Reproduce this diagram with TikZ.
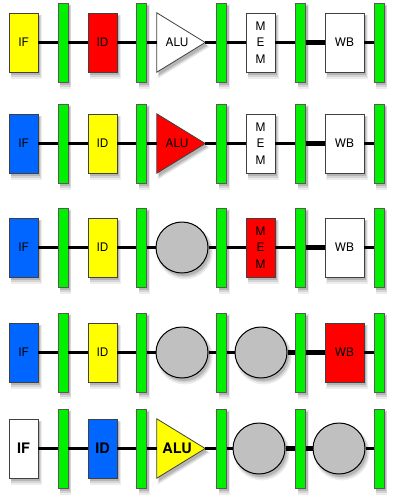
\documentclass[tikz,border=0pt]{standalone}
\usepackage{fontspec}
\setmainfont{TeX Gyre Heros}
\usetikzlibrary{shapes.geometric,shadows}
\definecolor{pblue}{RGB}{0,102,255}
\definecolor{pgreen}{RGB}{0,240,0}
\definecolor{pgrey}{RGB}{192,192,192}
\definecolor{pyellow}{RGB}{255,255,0}
\definecolor{pred}{RGB}{255,0,0}
\begin{document}
\begin{tikzpicture}[x=1pt,y=-1pt,
  softshadow/.style={
    general shadow={shadow xshift=2.5pt,shadow yshift=-4pt,shadow scale=1.08,fill=black,opacity=.07},
    general shadow={shadow xshift=2.5pt,shadow yshift=-3.5pt,shadow scale=1.04,fill=black,opacity=.10},
    general shadow={shadow xshift=2pt,shadow yshift=-3pt,fill=black,opacity=.15}},
  txt/.style={font=\fontsize{11.8}{16.5}\selectfont, align=center},
  bigtxt/.style={font=\bfseries\fontsize{14.5}{16}\selectfont, align=center},
  stage/.style={draw=black!75, line width=0.8pt, minimum width=29, minimum height=59, inner sep=0pt, softshadow, txt},
  wbstage/.style={stage, minimum width=39},
  pbar/.style={draw=black!65, line width=0.8pt, fill=pgreen, minimum width=10, minimum height=79, inner sep=0pt, softshadow},
  bubble/.style={ellipse, draw=black, line width=1pt, fill=pgrey, minimum width=52, minimum height=51, inner sep=0pt, softshadow},
  alubox/.style={minimum width=48, minimum height=59, inner sep=0pt},
  tri/.style={draw=black!75, line width=0.8pt, line join=miter, softshadow},
  wire/.style={line width=3pt, black},
  thickwire/.style={line width=4.5pt, black}]
\useasboundingbox (0,0) rectangle (405,504);

% pipeline registers
\foreach \r/\y in {1/42.5,2/143.5,3/247.5,4/352.5,5/448.5}{
  \foreach \i/\x in {1/63,2/141.5,3/221.5,4/300.5,5/379}{
    \node[pbar] (b\i-\r) at (\x,\y) {};
  }
}

% ---------- row 1 ----------
\node[stage, fill=pyellow] (if1) at (23.5,42.5) {IF};
\node[stage, fill=pred] (id1) at (102.5,42.5) {ID};
\node[alubox] (alu1) at (181,42.5) {};
\filldraw[tri, fill=white] (alu1.north west) -- (alu1.east) -- (alu1.south west) -- cycle;
\node[txt] (alu1t) at ([xshift=-4pt]alu1.center) {ALU};
\node[stage, fill=white] (mem1) at (260.5,42.5) {M\\E\\M};
\node[wbstage, fill=white] (wb1) at (344.5,42.5) {WB};
\draw[wire] (if1) -- (b1-1);
\draw[wire] (b1-1) -- (id1);
\draw[wire] (id1) -- (b2-1);
\draw[wire] (b2-1) -- (alu1);
\draw[wire] (alu1) -- (b3-1);
\draw[wire] (b3-1) -- (mem1);
\draw[wire] (mem1) -- (b4-1);
\draw[thickwire] (b4-1) -- (wb1);
\draw[wire] (wb1) -- (b5-1);

% ---------- row 2 ----------
\node[stage, fill=pblue] (if2) at (23.5,143.5) {IF};
\node[stage, fill=pyellow] (id2) at (102.5,143.5) {ID};
\node[alubox] (alu2) at (181,143.5) {};
\filldraw[tri, fill=pred] (alu2.north west) -- (alu2.east) -- (alu2.south west) -- cycle;
\node[txt] (alu2t) at ([xshift=-4pt]alu2.center) {ALU};
\node[stage, fill=white] (mem2) at (260.5,143.5) {M\\E\\M};
\node[wbstage, fill=white] (wb2) at (344.5,143.5) {WB};
\draw[wire] (if2) -- (b1-2);
\draw[wire] (b1-2) -- (id2);
\draw[wire] (id2) -- (b2-2);
\draw[wire] (b2-2) -- (alu2);
\draw[wire] (alu2) -- (b3-2);
\draw[wire] (b3-2) -- (mem2);
\draw[wire] (mem2) -- (b4-2);
\draw[thickwire] (b4-2) -- (wb2);
\draw[wire] (wb2) -- (b5-2);

% ---------- row 3 ----------
\node[stage, fill=pblue] (if3) at (23.5,247.5) {IF};
\node[stage, fill=pyellow] (id3) at (102.5,247.5) {ID};
\node[bubble] (c1-3) at (182,247.5) {};
\node[stage, fill=pred] (mem3) at (260.5,247.5) {M\\E\\M};
\node[wbstage, fill=white] (wb3) at (344.5,247.5) {WB};
\draw[wire] (if3) -- (b1-3);
\draw[wire] (b1-3) -- (id3);
\draw[wire] (id3) -- (b2-3);
\draw[wire] (b2-3) -- (c1-3);
\draw[wire] (c1-3) -- (b3-3);
\draw[wire] (b3-3) -- (mem3);
\draw[wire] (mem3) -- (b4-3);
\draw[thickwire] (b4-3) -- (wb3);
\draw[wire] (wb3) -- (b5-3);

% ---------- row 4 ----------
\node[stage, fill=pblue] (if4) at (23.5,352.5) {IF};
\node[stage, fill=pyellow] (id4) at (102.5,352.5) {ID};
\node[bubble] (c1-4) at (182,352.5) {};
\node[bubble] (c2-4) at (261,352.5) {};
\node[wbstage, fill=pred] (wb4) at (344.5,352.5) {WB};
\draw[wire] (if4) -- (b1-4);
\draw[wire] (b1-4) -- (id4);
\draw[wire] (id4) -- (b2-4);
\draw[wire] (b2-4) -- (c1-4);
\draw[wire] (c1-4) -- (b3-4);
\draw[wire] (b3-4) -- (c2-4);
\draw[thickwire] (c2-4) -- (b4-4);
\draw[thickwire] (b4-4) -- (wb4);
\draw[wire] (wb4) -- (b5-4);

% ---------- row 5 ----------
\node[stage, fill=white, bigtxt] (if5) at (23.5,448.5) {IF};
\node[stage, fill=pblue, bigtxt] (id5) at (102.5,448.5) {ID};
\node[alubox] (alu5) at (181,448.5) {};
\filldraw[tri, fill=pyellow] (alu5.north west) -- (alu5.east) -- (alu5.south west) -- cycle;
\node[bigtxt] (alu5t) at ([xshift=-4pt]alu5.center) {ALU};
\node[bubble] (c1-5) at (259,448.5) {};
\node[bubble] (c2-5) at (339,448.5) {};
\draw[wire] (if5) -- (b1-5);
\draw[wire] (b1-5) -- (id5);
\draw[wire] (id5) -- (b2-5);
\draw[wire] (b2-5) -- (alu5);
\draw[wire] (alu5) -- (b3-5);
\draw[wire] (b3-5) -- (c1-5);
\draw[thickwire] (c1-5) -- (b4-5);
\draw[thickwire] (b4-5) -- (c2-5);
\draw[wire] (c2-5) -- (b5-5);
\end{tikzpicture}
\end{document}
